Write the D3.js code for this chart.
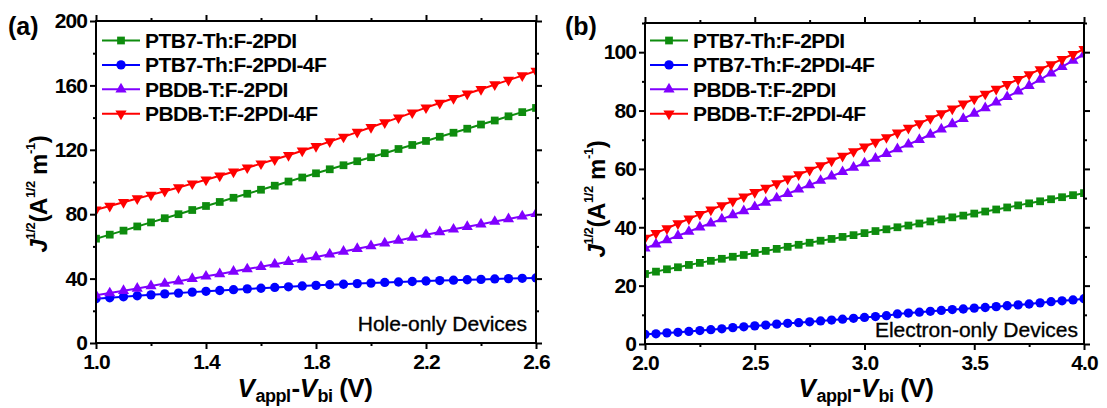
<!DOCTYPE html>
<html lang="en">
<head>
<meta charset="utf-8">
<title>Hole / electron only devices</title>
<script src="https://cdn.jsdelivr.net/npm/d3@7"></script>
<style>
  body, html { margin: 0; padding: 0; background: #fff; }
  svg { display: block; }
  text { font-family: "Liberation Sans", Arial, sans-serif; fill: #000; }
  .tick text { font-size: 21px; font-weight: bold; letter-spacing: -0.9px; }
  .tick line { stroke: #000; stroke-width: 2px; }
  .frame { fill: none; stroke: #000; stroke-width: 2px; }
  .legend text { font-size: 21px; font-weight: bold; letter-spacing: -0.6px; }
  .note { font-size: 21px; stroke: #000; stroke-width: 0.35px; }
</style>
</head>
<body>
<svg id="chart" width="1107" height="408"></svg>
<script>
// ---- data ----
var seriesNames = ["PTB7-Th:F-2PDI", "PTB7-Th:F-2PDI-4F", "PBDB-T:F-2PDI", "PBDB-T:F-2PDI-4F"];

// (a) hole-only devices
var holeV = [1.00,1.05,1.10,1.15,1.20,1.25,1.30,1.35,1.40,1.45,1.50,1.55,1.60,1.65,1.70,1.75,1.80,
             1.85,1.90,1.95,2.00,2.05,2.10,2.15,2.20,2.25,2.30,2.35,2.40,2.45,2.50,2.55,2.60];
var holeGreen = [64.8,67.3,69.8,72.4,74.9,77.5,80.0,82.6,85.1,87.6,90.2,92.7,95.2,97.7,100.3,102.8,105.4,
                 107.9,110.4,112.9,115.4,117.9,120.5,123.0,125.5,128.1,130.6,133.1,135.7,138.2,140.8,143.4,146.0];
var holeBlue = [27.5,28.1,28.7,29.3,29.9,30.5,31.0,31.6,32.1,32.6,33.1,33.6,34.0,34.5,34.9,35.4,35.8,
                36.2,36.5,36.9,37.2,37.6,37.9,38.2,38.5,38.8,39.0,39.3,39.5,39.8,40.0,40.2,40.4];
var holePurple = [29.6,31.0,32.5,33.9,35.4,36.9,38.4,39.9,41.4,42.9,44.4,45.9,47.4,48.9,50.4,51.9,53.4,
                  55.1,56.8,58.6,60.3,62.0,63.7,65.5,67.3,68.9,70.6,72.2,73.8,75.4,77.0,78.7,80.3];
var holeRed = [82.8,85.1,87.4,89.7,92.0,94.3,96.6,99.0,101.4,103.9,106.4,108.9,111.4,114.0,116.6,119.4,122.2,
               125.1,128.0,131.0,134.0,137.0,140.0,143.1,146.2,149.1,152.0,154.8,157.6,160.5,163.3,166.1,169.0];
var holeXTicks = [1.0, 1.4, 1.8, 2.2, 2.6];
var holeXMinor = [1.2, 1.6, 2.0, 2.4];
var holeYTicks = [0, 40, 80, 120, 160, 200];
var holeYMinor = [20, 60, 100, 140, 180];

// (b) electron-only devices
var elecV = [2.00,2.05,2.10,2.15,2.20,2.25,2.30,2.35,2.40,2.45,2.50,2.55,2.60,2.65,2.70,2.75,2.80,2.85,2.90,2.95,
             3.00,3.05,3.10,3.15,3.20,3.25,3.30,3.35,3.40,3.45,3.50,3.55,3.60,3.65,3.70,3.75,3.80,3.85,3.90,3.95,4.00];
var elecGreen = [24.0,24.8,25.6,26.3,27.1,27.8,28.5,29.2,29.9,30.5,31.2,31.9,32.6,33.3,34.0,34.7,35.4,36.0,36.7,37.3,
                 38.0,38.7,39.3,40.0,40.6,41.3,42.0,42.7,43.4,44.0,44.7,45.4,46.1,46.8,47.5,48.2,48.9,49.6,50.3,51.0,51.7];
var elecBlue = [3.3,3.5,3.8,4.0,4.3,4.6,4.9,5.2,5.6,5.9,6.2,6.5,6.8,7.1,7.3,7.6,7.9,8.2,8.5,8.8,
                9.1,9.4,9.7,10.3,10.6,10.9,11.2,11.5,11.8,12.0,12.3,12.5,12.8,13.1,13.4,13.7,14.1,14.5,14.8,15.1,15.5];
var elecPurple = [32.8,34.2,35.6,37.1,38.5,40.0,41.4,42.8,44.2,45.6,47.0,48.5,50.0,51.5,53.0,54.5,56.0,57.5,59.0,60.5,
                  62.0,63.6,65.2,66.8,68.4,70.0,71.8,73.6,75.4,77.2,79.0,80.9,82.8,84.7,86.6,88.5,90.6,92.8,95.0,97.1,99.3];
var elecRed = [36.3,38.0,39.6,41.3,42.9,44.5,46.0,47.5,49.0,50.5,52.0,53.5,55.0,56.6,58.1,59.6,61.2,62.8,64.4,66.0,
               67.6,69.2,70.8,72.4,74.0,75.6,77.3,79.0,80.6,82.3,84.0,85.7,87.4,89.0,90.7,92.4,94.1,95.8,97.6,99.3,101.0];
var elecXTicks = [2.0, 2.5, 3.0, 3.5, 4.0];
var elecXMinor = [2.25, 2.75, 3.25, 3.75];
var elecYTicks = [0, 20, 40, 60, 80, 100];
var elecYMinor = [10, 30, 50, 70, 90, 110];

// ---- styles ----
var colors = ["#0e8c0e", "#0000ff", "#8000ff", "#ff0000"];
var shapes = [
    d3.symbol().type(d3.symbolSquare).size(60),
    d3.symbol().type(d3.symbolCircle).size(68),
    d3.symbol().type(d3.symbolTriangle).size(54),
    d3.symbol().type(d3.symbolTriangle).size(54)
];
var flips = [0, 0, 0, 180];

var svg = d3.select("#chart");

function drawPanel(cfg) {
    var x = d3.scaleLinear().domain(cfg.xDomain).range([cfg.left, cfg.right]);
    var y = d3.scaleLinear().domain(cfg.yDomain).range([cfg.bottom, cfg.top]);
    var g = svg.append("g");

    g.append("clipPath").attr("id", cfg.id + "-clip")
        .append("rect")
        .attr("x", cfg.left).attr("y", cfg.top)
        .attr("width", cfg.right - cfg.left).attr("height", cfg.bottom - cfg.top);

    // axes, ticks outward on all four sides
    function addAxis(axis, tr) {
        var a = g.append("g").attr("transform", tr).call(axis);
        a.select(".domain").remove();
        return a;
    }
    addAxis(d3.axisBottom(x).tickValues(cfg.xTicks).tickSize(6).tickPadding(5)
        .tickFormat(d3.format(".1f")), "translate(0," + cfg.bottom + ")");
    addAxis(d3.axisBottom(x).tickValues(cfg.xMinor).tickSize(3).tickFormat(""), "translate(0," + cfg.bottom + ")");
    addAxis(d3.axisTop(x).tickValues(cfg.xTicks).tickSize(6).tickFormat(""), "translate(0," + cfg.top + ")");
    addAxis(d3.axisTop(x).tickValues(cfg.xMinor).tickSize(3).tickFormat(""), "translate(0," + cfg.top + ")");
    addAxis(d3.axisLeft(y).tickValues(cfg.yTicks).tickSize(6).tickPadding(3)
        .tickFormat(d3.format("d")), "translate(" + cfg.left + ",0)");
    addAxis(d3.axisLeft(y).tickValues(cfg.yMinor).tickSize(3).tickFormat(""), "translate(" + cfg.left + ",0)");
    addAxis(d3.axisRight(y).tickValues(cfg.yTicks).tickSize(6).tickFormat(""), "translate(" + cfg.right + ",0)");
    addAxis(d3.axisRight(y).tickValues(cfg.yMinor).tickSize(3).tickFormat(""), "translate(" + cfg.right + ",0)");

    // series
    var plot = g.append("g").attr("clip-path", "url(#" + cfg.id + "-clip)");
    var line = d3.line().x(function(d) { return x(d[0]); }).y(function(d) { return y(d[1]); });
    cfg.series.forEach(function(vals, i) {
        var pts = cfg.xs.map(function(v, k) { return [v, vals[k]]; });
        plot.append("path").datum(pts)
            .attr("d", line)
            .attr("fill", "none")
            .attr("stroke", colors[i])
            .attr("stroke-width", 2);
        plot.selectAll(".m" + i).data(pts).enter().append("path")
            .attr("class", "m" + i)
            .attr("d", shapes[i])
            .attr("fill", colors[i])
            .attr("transform", function(d) {
                return "translate(" + x(d[0]) + "," + y(d[1]) + ") rotate(" + flips[i] + ")";
            });
    });

    g.append("rect").attr("class", "frame")
        .attr("x", cfg.left).attr("y", cfg.top)
        .attr("width", cfg.right - cfg.left).attr("height", cfg.bottom - cfg.top);

    // legend
    var leg = g.append("g").attr("class", "legend");
    seriesNames.forEach(function(name, i) {
        var ry = cfg.legendY + i * 24.4;
        leg.append("line")
            .attr("x1", cfg.legendX).attr("x2", cfg.legendX + 38)
            .attr("y1", ry).attr("y2", ry)
            .attr("stroke", colors[i]).attr("stroke-width", 2);
        leg.append("path")
            .attr("d", shapes[i])
            .attr("fill", colors[i])
            .attr("transform", "translate(" + (cfg.legendX + 19) + "," + ry + ") rotate(" + flips[i] + ")");
        leg.append("text")
            .attr("x", cfg.legendX + 43).attr("y", ry).attr("dy", "0.36em")
            .text(name);
    });

    // device note
    g.append("text").attr("class", "note")
        .attr("x", cfg.noteX).attr("y", cfg.noteY)
        .attr("text-anchor", "end")
        .text(cfg.note);

    // panel letter
    g.append("text")
        .attr("x", cfg.tagX).attr("y", 35)
        .style("font-size", "25px").style("font-weight", "bold")
        .text(cfg.tag);

    // x title
    var xt = g.append("text")
        .attr("x", cfg.xTitleX).attr("y", 397)
        .attr("text-anchor", "middle")
        .style("font-size", "26px").style("font-weight", "bold").style("letter-spacing", "-0.5px");
    xt.append("tspan").style("font-style", "italic").text("V");
    xt.append("tspan").attr("dx", 1).attr("dy", 5).style("font-size", "18px").text("appl");
    xt.append("tspan").attr("dx", 1).attr("dy", -5).text("-");
    xt.append("tspan").style("font-style", "italic").text("V");
    xt.append("tspan").attr("dx", 1).attr("dy", 5).style("font-size", "18px").text("bi");
    xt.append("tspan").attr("dy", -5).text(" (V)");

    // y title
    var yt = g.append("text")
        .attr("transform", "translate(" + cfg.yTitleX + "," + cfg.yTitleY + ") rotate(-90)")
        .attr("text-anchor", "middle")
        .style("font-size", "24px").style("font-weight", "bold").style("letter-spacing", "-0.4px");
    yt.append("tspan").style("font-style", "italic").text("J");
    yt.append("tspan").attr("dy", -12).style("font-size", "13px").text("1/2");
    yt.append("tspan").attr("dy", 12).text("(A");
    yt.append("tspan").attr("dy", -12).style("font-size", "13px").text("1/2");
    yt.append("tspan").attr("dy", 12).text(" m");
    yt.append("tspan").attr("dy", -12).style("font-size", "13px").text("-1");
    yt.append("tspan").attr("dy", 12).text(")");
}

drawPanel({
    id: "a", tag: "(a)", tagX: 8,
    left: 96, right: 536, top: 21, bottom: 343,
    xDomain: [1.0, 2.6], yDomain: [0, 200],
    xTicks: holeXTicks, xMinor: holeXMinor, yTicks: holeYTicks, yMinor: holeYMinor,
    xs: holeV, series: [holeGreen, holeBlue, holePurple, holeRed],
    legendX: 102, legendY: 40.5,
    note: "Hole-only Devices", noteX: 527, noteY: 331,
    xTitleX: 305, yTitleX: 47, yTitleY: 194
});

drawPanel({
    id: "b", tag: "(b)", tagX: 565,
    left: 645, right: 1084, top: 23, bottom: 344,
    xDomain: [2.0, 4.0], yDomain: [0, 110],
    xTicks: elecXTicks, xMinor: elecXMinor, yTicks: elecYTicks, yMinor: elecYMinor,
    xs: elecV, series: [elecGreen, elecBlue, elecPurple, elecRed],
    legendX: 650, legendY: 40.5,
    note: "Electron-only Devices", noteX: 1078, noteY: 337,
    xTitleX: 866, yTitleX: 605, yTitleY: 199
});
</script>
</body>
</html>
